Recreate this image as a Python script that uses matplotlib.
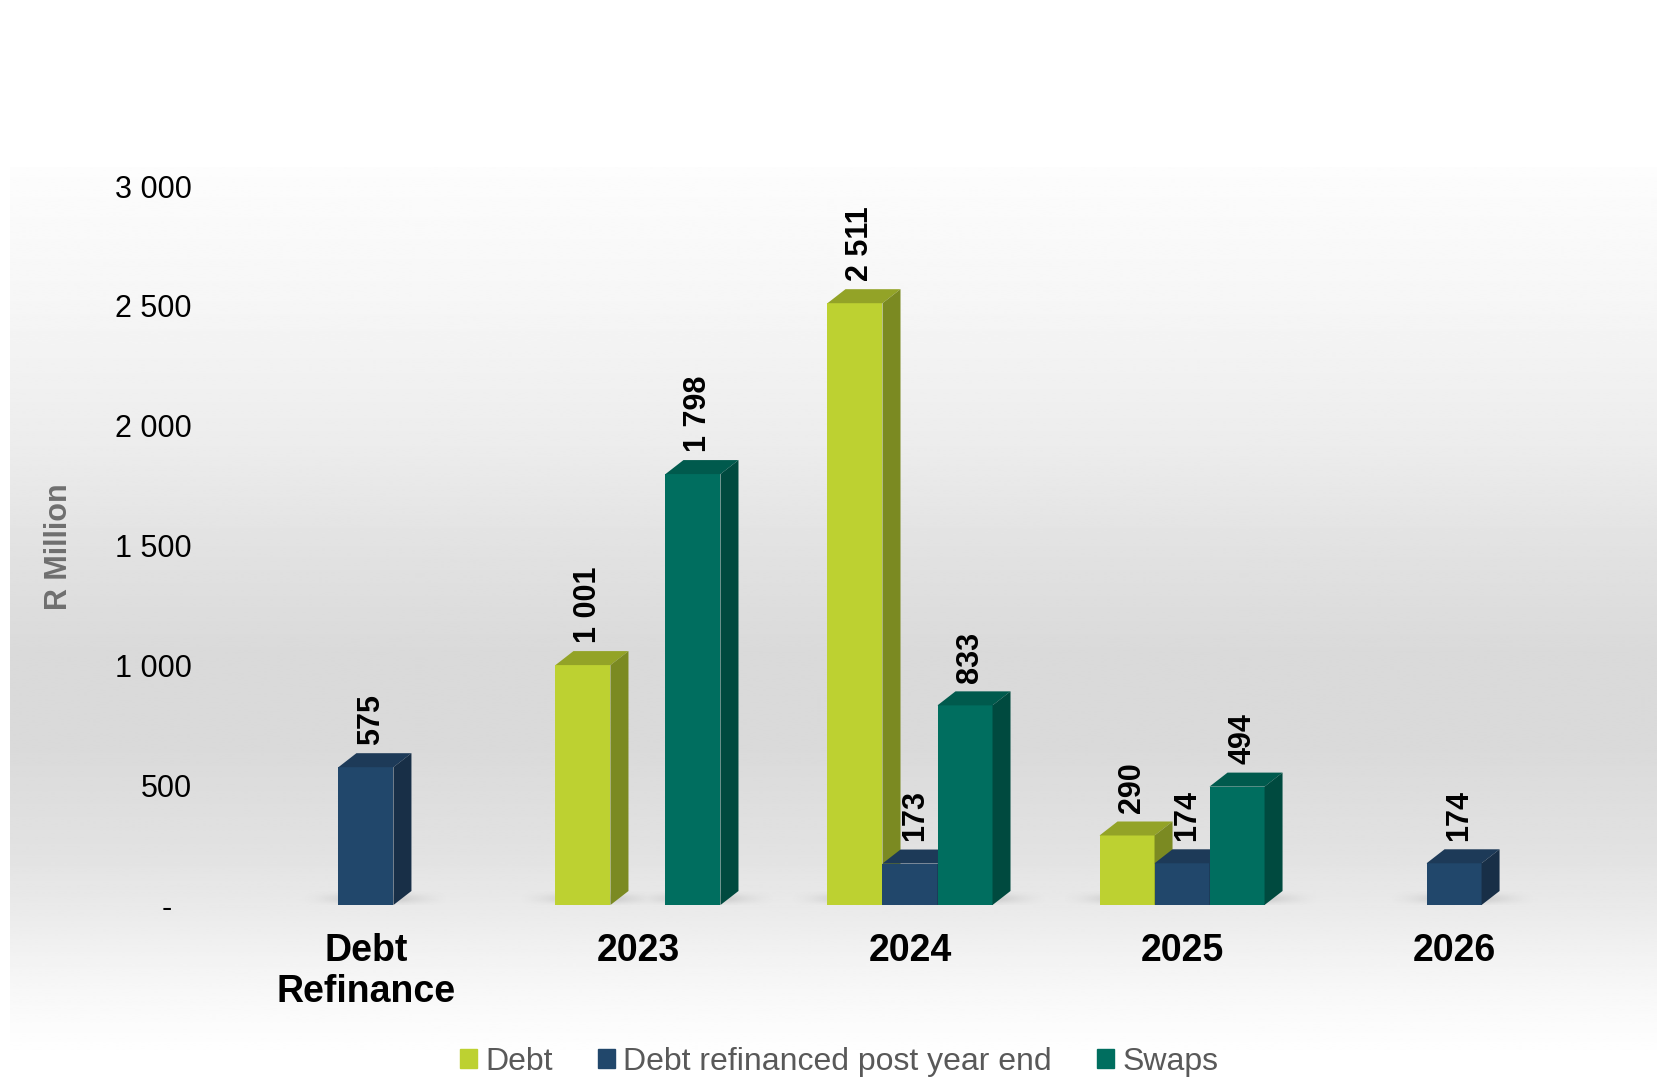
import numpy as np
import matplotlib.pyplot as plt
from matplotlib.patches import Polygon
import matplotlib.transforms as mtransforms

plt.rcParams['font.family'] = ['Liberation Sans', 'DejaVu Sans']

categories = ['Debt\nRefinance', '2023', '2024', '2025', '2026']
series_names = ['Debt', 'Debt refinanced post year end', 'Swaps']
debt = [0, 1001, 2511, 290, 0]
debt_refinanced = [575, 0, 173, 174, 174]
swaps = [0, 1798, 833, 494, 0]
yticks = [0, 500, 1000, 1500, 2000, 2500, 3000]
ytick_labels = ['-', '500', '1 000', '1 500', '2 000', '2 500', '3 000']

# front, top, side shades for each series
face_colors = ['#bdd131', '#21476b', '#006e5f']
top_colors = ['#93a327', '#1d3a58', '#005a4d']
side_colors = ['#7b8a22', '#182f47', '#004a3f']

W, H = 1658, 1077
fig = plt.figure(figsize=(W / 100, H / 100), dpi=100)
fig.patch.set_facecolor('white')

# vertical background gradient
bg = fig.add_axes([10 / W, (H - 1050) / H, 1 - 10 / W, (1050 - 167) / H], zorder=0)
stops_px = np.array([167, 300, 450, 550, 650, 750, 850, 905, 950, 1000, 1050])
stops_val = np.array([0.99, 0.965, 0.925, 0.885, 0.855, 0.855, 0.885, 0.915, 0.945, 0.975, 0.995])
rows = np.linspace(167, 1050, 400)
grey = np.interp(rows, stops_px, stops_val)
bg.imshow(np.repeat(grey[:, None], 2, axis=1), cmap='gray', vmin=0, vmax=1,
          aspect='auto', extent=(0, 1, 0, 1), interpolation='bilinear')
bg.axis('off')

ax = fig.add_axes([200 / W, (H - 905) / H, 1420 / W, (905 - 186) / H], zorder=1)
ax.patch.set_alpha(0)

bw = 55 / 272
dx = 18 / 272
dy = 14 * 3000 / 719

x = np.arange(len(categories))
series = [debt, debt_refinanced, swaps]

# soft floor shadow under the bars
xs = np.linspace(-0.61, 4.61, 1200)
shade = np.zeros_like(xs)
for k, vals in enumerate(series):
    for i, v in enumerate(vals):
        if v > 0:
            c = x[i] + (k - 1) * bw + dx / 2
            prof = np.clip(1 - np.clip(np.abs(xs - c) - bw / 2, 0, None) / 0.17, 0, 1) ** 1.5
            shade = np.maximum(shade, prof)
yy = np.linspace(0, 1, 30)
vprof = np.exp(-((yy - 0.45) / 0.35) ** 2)
alpha = 0.25 * vprof[:, None] * shade[None, :]
rgba = np.zeros(alpha.shape + (4,))
rgba[..., :3] = 0.55
rgba[..., 3] = alpha
ax.imshow(rgba, extent=(-0.61, 4.61, 0, dy), aspect='auto', origin='lower',
          zorder=1, interpolation='bilinear', clip_on=False)
ax.set_xlim(-0.61, 4.61)
ax.set_ylim(0, 3000)

z = 2
for i in range(len(categories)):
    for k, vals in enumerate(series):
        v = vals[i]
        if v <= 0:
            continue
        xc = x[i] + (k - 1) * bw
        x0, x1 = xc - bw / 2, xc + bw / 2
        ax.bar(xc, v, width=bw, color=face_colors[k], zorder=z, linewidth=0)
        ax.add_patch(Polygon([(x0, v), (x0 + dx, v + dy), (x1 + dx, v + dy), (x1, v)],
                             closed=True, facecolor=top_colors[k], linewidth=0, zorder=z))
        ax.add_patch(Polygon([(x1, 0), (x1 + dx, dy), (x1 + dx, v + dy), (x1, v)],
                             closed=True, facecolor=side_colors[k], linewidth=0, zorder=z))
        label = f'{v:,}'.replace(',', ' ')
        ax.text(xc + dx * 0.3, v + dy + 35, label, rotation=90, ha='center', va='bottom',
                fontsize=22, fontweight='bold', color='black', zorder=10)
        z += 1

ax.set_xticks(x)
ax.set_xticklabels(categories, fontsize=27, fontweight='bold', linespacing=1.2)
ax.set_yticks(yticks)
ax.set_yticklabels(ytick_labels, fontsize=22)
ax.tick_params(axis='both', length=0)
ax.tick_params(axis='y', pad=6)
ax.tick_params(axis='x', pad=20)
for side in ['top', 'right', 'left', 'bottom']:
    ax.spines[side].set_visible(False)

# the zero tick is drawn as a dash set in from the right edge
zero_lbl = ax.get_yticklabels()[0]
zero_lbl.set_transform(zero_lbl.get_transform() +
                       mtransforms.ScaledTranslation(-0.20, 0, fig.dpi_scale_trans))

fig.text(59 / W, 1 - 547 / H, 'R Million', rotation=90, ha='center', va='center',
         fontsize=22, fontweight='bold', color='#6f6f6f')

handles = [plt.Rectangle((0, 0), 1, 1, color=c) for c in face_colors]
leg = fig.legend(handles, series_names, loc='center', bbox_to_anchor=(839 / W, 1 - 1062 / H),
                 ncol=3, frameon=False, fontsize=23, handlelength=0.55, handleheight=0.55,
                 handletextpad=0.25, columnspacing=1.4, borderpad=0)
for t in leg.get_texts():
    t.set_color('#595959')

fig.savefig('out.png', dpi=100)
